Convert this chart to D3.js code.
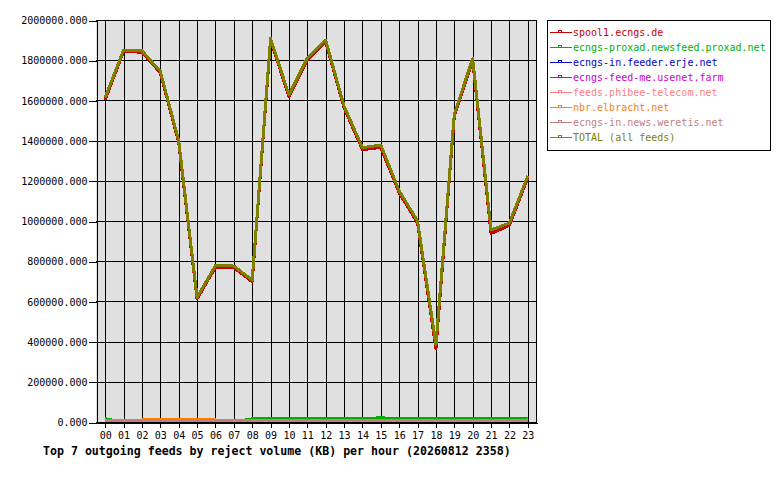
<!DOCTYPE html>
<html>
<head>
<meta charset="utf-8">
<script src="https://cdn.jsdelivr.net/npm/d3@7"></script>
<style>
  body { margin: 0; background: #ffffff; }
  text { font-family: "DejaVu Sans Mono", monospace; }
</style>
</head>
<body>
<svg id="chart" width="780" height="480"></svg>
<script>
var hours = ["00","01","02","03","04","05","06","07","08","09","10","11",
             "12","13","14","15","16","17","18","19","20","21","22","23"];

var feedNames = ["spool1.ecngs.de", "ecngs-proxad.newsfeed.proxad.net", "ecngs-in.feeder.erje.net",
                 "ecngs-feed-me.usenet.farm", "feeds.phibee-telecom.net", "nbr.elbracht.net",
                 "ecngs-in.news.weretis.net", "TOTAL (all feeds)"];
var feedColors = ["#cc0000", "#00b000", "#0000cc", "#cc00cc", "#ff8080", "#ff8000", "#c08080", "#808000"];

// KB per hour
var spool1  = [1603000,1843000,1840000,1738000,1390000,612000,770000,768000,698000,1900000,1618000,1803000,
               1892000,1563000,1355000,1366000,1140000,990000,365000,1522000,1798000,938000,978000,1215000];
var proxad  = [16000,0,0,0,0,0,0,0,16000,16000,16000,16000,16000,16000,16000,21000,16000,16000,16000,16000,16000,16000,16000,16000];
var erje    = [0,0,0,0,0,0,0,0,0,0,0,0,0,0,0,0,0,0,0,0,0,0,0,0];
var feedme  = [0,0,0,0,0,0,0,0,0,0,0,0,0,0,0,0,0,0,0,0,0,0,0,0];
var phibee  = [0,0,0,0,0,0,0,0,0,0,0,0,0,0,0,0,0,0,0,0,0,0,0,0];
var nbr     = [0,0,10000,10000,10000,10000,10000,0,0,0,0,0,0,0,0,0,0,0,0,0,0,0,0,10000];
var weretis = [6000,6000,6000,6000,6000,6000,6000,6000,6000,6000,6000,6000,6000,6000,6000,6000,6000,6000,6000,6000,6000,6000,6000,6000];
var total   = [1615000,1850000,1847000,1745000,1400000,620000,778000,776000,706000,1908000,1627000,1811000,
               1900000,1572000,1365000,1378000,1150000,1000000,385000,1532000,1808000,955000,990000,1225000];

var yTicks = [0,200000,400000,600000,800000,1000000,1200000,1400000,1600000,1800000,2000000];
var title = "Top 7 outgoing feeds by reject volume (KB) per hour (20260812 2358)";

var seriesData = [spool1, proxad, erje, feedme, phibee, nbr, weretis, total];
// order they get painted in (TOTAL on top)
var drawOrder = [1, 2, 3, 5, 4, 6, 0, 7];

var svg = d3.select("#chart");
var pLeft = 96, pRight = 537, pTop = 20, pBottom = 422;

var x = d3.scalePoint().domain(hours).range([pLeft, pRight]).padding(0.5);
var y = d3.scaleLinear().domain([0, 2000000]).range([pBottom, pTop]);

svg.append("defs").append("clipPath").attr("id", "plotclip")
  .append("rect").attr("x", pLeft).attr("y", pTop).attr("width", pRight - pLeft).attr("height", pBottom - pTop);

svg.append("rect")
  .attr("x", pLeft).attr("y", pTop)
  .attr("width", pRight - pLeft).attr("height", pBottom - pTop)
  .attr("fill", "#e0e0e0");

// grid
svg.append("g").selectAll("line").data(hours).enter().append("line")
  .attr("x1", function(d){ return Math.round(x(d)) + 0.5; })
  .attr("x2", function(d){ return Math.round(x(d)) + 0.5; })
  .attr("y1", pTop).attr("y2", pBottom)
  .attr("stroke", "#000").attr("stroke-width", 1).attr("shape-rendering", "crispEdges");
svg.append("g").selectAll("line").data(yTicks).enter().append("line")
  .attr("x1", pLeft).attr("x2", pRight)
  .attr("y1", function(d){ return Math.round(y(d)) + 0.5; })
  .attr("y2", function(d){ return Math.round(y(d)) + 0.5; })
  .attr("stroke", "#000").attr("stroke-width", 1).attr("shape-rendering", "crispEdges");
svg.append("line")
  .attr("x1", pRight - 0.5).attr("x2", pRight - 0.5).attr("y1", pTop).attr("y2", pBottom)
  .attr("stroke", "#000").attr("shape-rendering", "crispEdges");

// lines
var line = d3.line()
  .x(function(d, i){ return x(hours[i]); })
  .y(function(d){ return y(d); });

var plot = svg.append("g").attr("clip-path", "url(#plotclip)");
drawOrder.forEach(function(s){
  plot.append("path")
    .attr("d", line(seriesData[s]))
    .attr("fill", "none")
    .attr("stroke", feedColors[s])
    .attr("stroke-width", 3)
    .attr("stroke-linejoin", "round")
    .attr("shape-rendering", "crispEdges");
});

// axes
var yAxis = d3.axisLeft(y).tickValues(yTicks).tickSize(8).tickPadding(1)
  .tickFormat(d3.format(".3f"));
var gy = svg.append("g").attr("transform", "translate(" + (pLeft + 0.5) + ",0.5)").call(yAxis);
gy.selectAll("text").attr("font-size", 10).attr("font-family", "DejaVu Sans Mono").attr("fill", "#000");
gy.select(".domain").attr("stroke", "#000").attr("shape-rendering", "crispEdges");
gy.selectAll(".tick line").attr("shape-rendering", "crispEdges");

var xAxis = d3.axisBottom(x).tickSize(5).tickPadding(4).tickSizeOuter(0);
var gx = svg.append("g").attr("transform", "translate(0," + (pBottom + 0.5) + ")").call(xAxis);
gx.selectAll("text").attr("font-size", 10).attr("font-family", "DejaVu Sans Mono").attr("fill", "#000");
gx.select(".domain").attr("stroke", "#000").attr("shape-rendering", "crispEdges");
gx.selectAll(".tick line").attr("shape-rendering", "crispEdges");

svg.append("text")
  .attr("x", 43).attr("y", 455)
  .attr("font-size", 11.6).attr("font-weight", "bold")
  .attr("fill", "#000")
  .text(title);

// legend
var lg = svg.append("g");
lg.append("rect")
  .attr("x", 547.5).attr("y", 20.5).attr("width", 223).attr("height", 130)
  .attr("fill", "#fff").attr("stroke", "#000").attr("shape-rendering", "crispEdges");
var items = lg.selectAll("g.item").data(feedNames).enter().append("g")
  .attr("transform", function(d, i){ return "translate(0," + (32.5 + i * 15) + ")"; });
items.append("line")
  .attr("x1", 550).attr("x2", 572).attr("y1", 0).attr("y2", 0)
  .attr("stroke", function(d, i){ return feedColors[i]; })
  .attr("shape-rendering", "crispEdges");
items.append("rect")
  .attr("x", 558.5).attr("y", -2.5).attr("width", 3).attr("height", 2)
  .attr("fill", "none")
  .attr("stroke", function(d, i){ return feedColors[i]; })
  .attr("shape-rendering", "crispEdges");
items.append("text")
  .attr("x", 573).attr("y", 0).attr("dy", "0.35em")
  .attr("font-size", 10)
  .attr("fill", function(d, i){ return feedColors[i]; })
  .text(function(d){ return d; });
</script>
</body>
</html>
